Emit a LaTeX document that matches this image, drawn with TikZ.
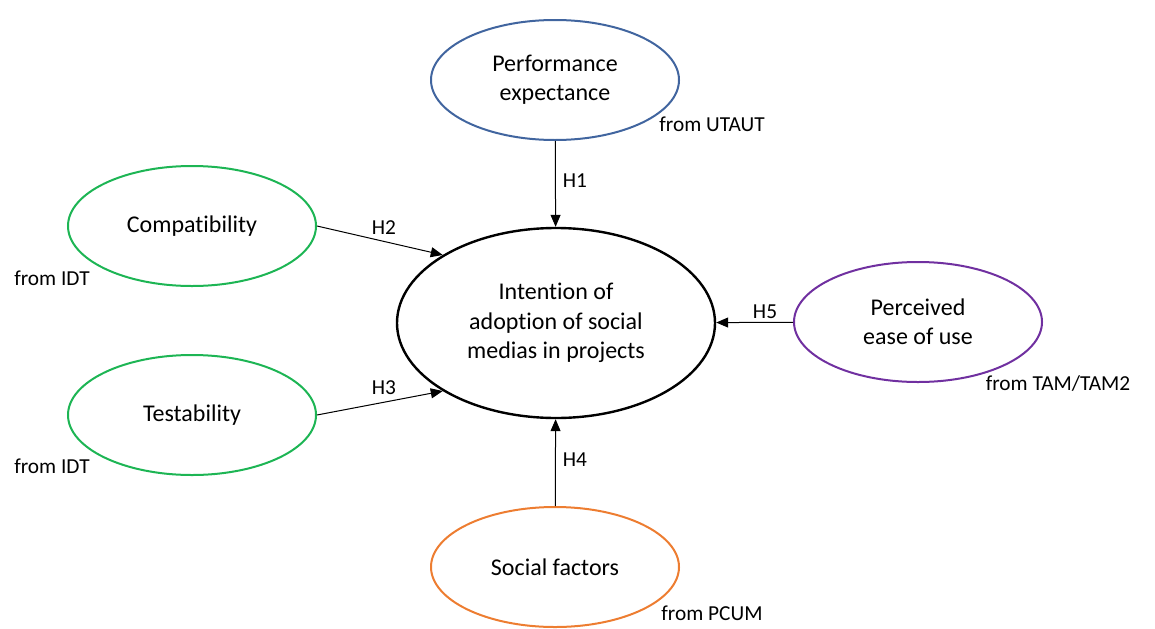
\documentclass[tikz,border=0pt]{standalone}
\usepackage{fontspec}
\setmainfont{Carlito}[Ligatures=NoCommon]
\usepackage{tikz}
\usetikzlibrary{arrows.meta, shapes.geometric}
\definecolor{peblue}{HTML}{41659F}
\definecolor{idtgreen}{HTML}{1DB554}
\definecolor{tampurple}{HTML}{7030A0}
\definecolor{sforange}{HTML}{ED7D31}

\begin{document}
\begin{tikzpicture}[
    x=0.75pt, y=-0.75pt,
    construct/.style={draw, ellipse, line width=1.5pt, align=center, inner sep=0pt, minimum width=186pt, minimum height=90pt, font=\fontsize{18}{22}\selectfont},
    target/.style={construct, line width=1.8pt, minimum width=238.5pt, minimum height=142.5pt},
    source/.style={font=\fontsize{16}{19}\selectfont},
    hyp/.style={font=\fontsize{16}{19}\selectfont},
    flow/.style={-{Triangle[length=9pt, width=7.5pt]}, line width=0.75pt}
]
\useasboundingbox (0,0) rectangle (1155,628);
\node[target] (intention) at (556,323) {Intention of\\adoption of social\\medias in projects};
\node[construct, draw=peblue] (perf) at (555,80) {Performance\\expectance};
\node[construct, draw=idtgreen] (compat) at (192,226) {Compatibility};
\node[construct, draw=idtgreen] (test) at (192,415) {Testability};
\node[construct, draw=tampurple] (ease) at (918,322) {Perceived\\ease of use};
\node[construct, draw=sforange] (social) at (555,567) {Social factors};
% theory sources
\node[source] (srcperf) at (712,124) {from UTAUT};
\node[source] (srccompat) at (52,278) {from IDT};
\node[source] (srctest) at (52,466) {from IDT};
\node[source] (srcease) at (1058,384) {from TAM/TAM2};
\node[source] (srcsocial) at (712,613) {from PCUM};
% hypotheses
\draw[flow] (perf) -- (intention);
\draw[flow] (compat.east) -- (intention.149);
\draw[flow] (test.east) -- (intention.211);
\draw[flow] (social) -- (intention);
\draw[flow] (ease) -- (intention);
\node[hyp] (h1) at (575,181) {H1};
\node[hyp] (h2) at (384,228) {H2};
\node[hyp] (h3) at (384,388) {H3};
\node[hyp] (h4) at (575,460) {H4};
\node[hyp] (h5) at (765,312) {H5};
\end{tikzpicture}
\end{document}
